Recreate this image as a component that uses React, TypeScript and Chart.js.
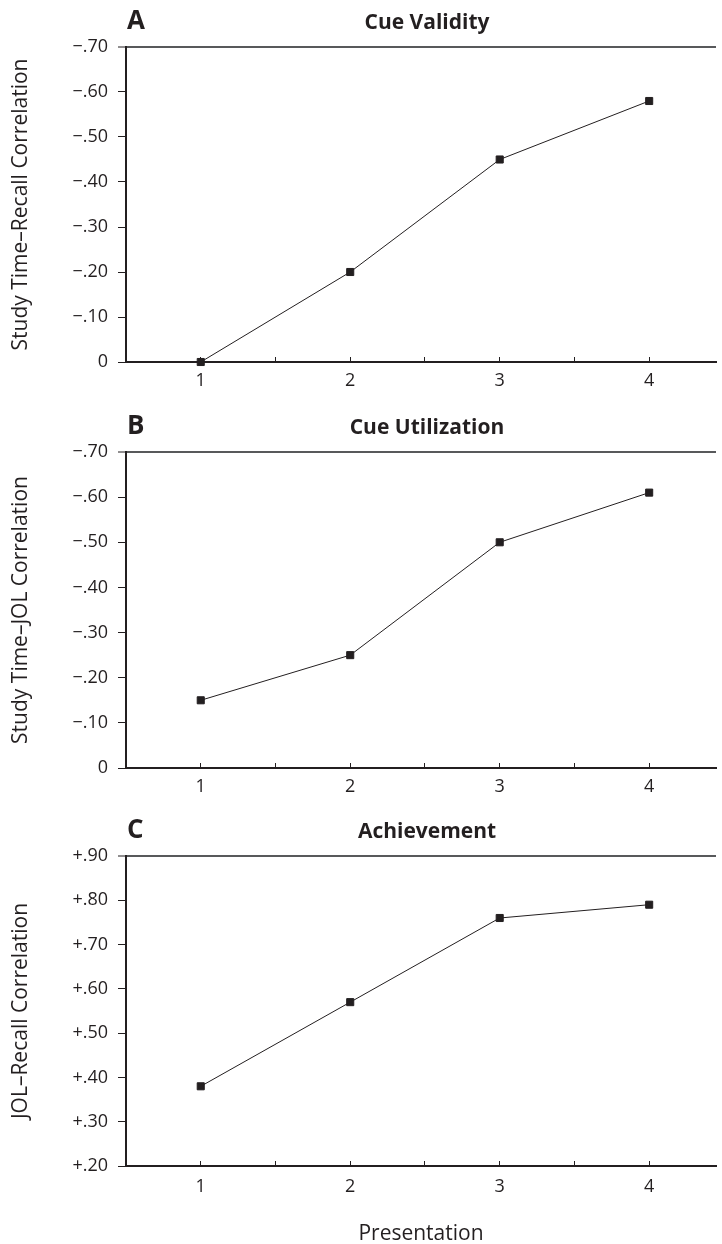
import React, { useEffect, useRef } from 'react';
import { Chart, registerables } from 'chart.js';

Chart.register(...registerables);

// ---------- data ----------
const presentations = [1, 2, 3, 4];
const xTickValues = [1, 1.5, 2, 2.5, 3, 3.5, 4];
const cueValidity = [0, -0.2, -0.45, -0.58];
const cueUtilization = [-0.15, -0.25, -0.5, -0.61];
const achievement = [0.38, 0.57, 0.76, 0.79];
const negativeTicks = [0, -0.1, -0.2, -0.3, -0.4, -0.5, -0.6, -0.7];
const positiveTicks = [0.2, 0.3, 0.4, 0.5, 0.6, 0.7, 0.8, 0.9];
const panelLetters = ['A', 'B', 'C'];
const panelTitles = ['Cue Validity', 'Cue Utilization', 'Achievement'];
const yTitles = [
  'Study Time\u2013Recall Correlation',
  'Study Time\u2013JOL Correlation',
  'JOL\u2013Recall Correlation',
];
const xTitle = 'Presentation';

// ---------- style / layout ----------
const INK = '#231f20';
const FONT = "'Open Sans', 'Noto Sans', sans-serif";
const WIDTH = 722;
const Y_AXIS_WIDTH = 126;
const X_MIN = 0.5;
const X_MAX = 4.447;

type PanelCfg = {
  top: number;
  height: number;
  padTop: number;
  xAxisHeight: number;
  xLabelPad: number;
  values: number[];
  ticks: number[];
  min: number;
  max: number;
  reverse: boolean;
  topValue: number;
  showXTitle: boolean;
};

const panels: PanelCfg[] = [
  { top: 0, height: 400, padTop: 47, xAxisHeight: 38, xLabelPad: 13, values: cueValidity, ticks: negativeTicks, min: -0.7, max: 0, reverse: true, topValue: -0.7, showXTitle: false },
  { top: 400, height: 405, padTop: 52, xAxisHeight: 37, xLabelPad: 13, values: cueUtilization, ticks: negativeTicks, min: -0.7, max: 0, reverse: true, topValue: -0.7, showXTitle: false },
  { top: 805, height: 439, padTop: 51, xAxisHeight: 78, xLabelPad: 15, values: achievement, ticks: positiveTicks, min: 0.2, max: 0.9, reverse: false, topValue: 0.9, showXTitle: true },
];

const fmtY = (v: number) => {
  if (Math.abs(v) < 1e-9) return '0';
  const s = Math.abs(v).toFixed(2).replace(/^0/, '');
  return (v < 0 ? '\u2212' : '+') + s;
};

const panelTextPlugin = {
  id: 'panelText',
  afterDraw(chart: any, _args: any, opts: any) {
    const ctx = chart.ctx;
    const base = chart.chartArea.top - 18;
    ctx.save();
    ctx.fillStyle = INK;
    ctx.textBaseline = 'alphabetic';
    ctx.textAlign = 'left';
    ctx.font = `bold 26px ${FONT}`;
    ctx.fillText(opts.letter, 127, base);
    ctx.textAlign = 'center';
    ctx.font = `bold 21px ${FONT}`;
    ctx.fillText(opts.title, 427, base);
    ctx.restore();
  },
};

function Panel({ idx }: { idx: number }) {
  const ref = useRef<HTMLCanvasElement>(null);
  const cfg = panels[idx];
  useEffect(() => {
    if (!ref.current) return;
    const chart = new Chart(ref.current, {
      type: 'line',
      data: {
        datasets: [
          {
            data: presentations.map((p, i) => ({ x: p, y: cfg.values[i] })),
            borderColor: INK,
            borderWidth: 1,
            pointStyle: 'rect',
            pointRadius: 5,
            pointBackgroundColor: INK,
            pointBorderColor: INK,
            pointBorderWidth: 1,
            tension: 0,
            clip: false as any,
          },
        ],
      },
      options: {
        animation: false,
        responsive: false,
        events: [],
        layout: { padding: { top: cfg.padTop, left: 0, right: 0, bottom: 0 } },
        plugins: {
          legend: { display: false },
          tooltip: { enabled: false },
          title: { display: false },
          panelText: { letter: panelLetters[idx], title: panelTitles[idx] },
        } as any,
        scales: {
          x: {
            type: 'linear',
            min: X_MIN,
            max: X_MAX,
            afterBuildTicks: (scale: any) => {
              scale.ticks = xTickValues.map((v) => ({ value: v }));
            },
            afterFit: (scale: any) => {
              scale.height = cfg.xAxisHeight;
            },
            border: { display: true, color: INK, width: 2 },
            grid: {
              display: true,
              drawOnChartArea: false,
              drawTicks: true,
              tickLength: -5,
              tickColor: INK,
              tickWidth: 1,
              color: 'rgba(0,0,0,0)',
            },
            ticks: {
              autoSkip: false,
              maxRotation: 0,
              padding: cfg.xLabelPad,
              color: INK,
              font: { family: FONT, size: 18 },
              callback: (v: any) => (Number.isInteger(v) ? String(v) : ''),
            },
            title: {
              display: cfg.showXTitle,
              text: xTitle,
              color: INK,
              font: { family: FONT, size: 21 },
              padding: { top: 0, bottom: -3 },
            },
          },
          y: {
            type: 'linear',
            min: cfg.min,
            max: cfg.max,
            reverse: cfg.reverse,
            afterBuildTicks: (scale: any) => {
              scale.ticks = cfg.ticks.map((v) => ({ value: v }));
            },
            afterFit: (scale: any) => {
              scale.width = Y_AXIS_WIDTH;
            },
            border: { display: true, color: INK, width: 2 },
            grid: {
              display: true,
              drawOnChartArea: true,
              drawTicks: true,
              tickLength: 8,
              tickColor: INK,
              tickWidth: 1,
              color: (c: any) =>
                c.tick && Math.abs(c.tick.value - cfg.topValue) < 1e-9 ? '#58595b' : 'rgba(0,0,0,0)',
              lineWidth: (c: any) =>
                c.tick && Math.abs(c.tick.value - cfg.topValue) < 1e-9 ? 2 : 1,
            },
            ticks: {
              autoSkip: false,
              padding: 10,
              color: INK,
              font: { family: FONT, size: 18 },
              callback: (v: any) => fmtY(Number(v)),
            },
            title: {
              display: true,
              text: yTitles[idx],
              color: INK,
              font: { family: FONT, size: 21 },
              padding: { top: 8, bottom: 0 },
            },
          },
        },
      } as any,
      plugins: [panelTextPlugin],
    });
    return () => chart.destroy();
  }, [idx]);
  return (
    <canvas
      ref={ref}
      width={WIDTH}
      height={cfg.height}
      style={{ position: 'absolute', left: 0, top: cfg.top, width: WIDTH, height: cfg.height }}
    />
  );
}

export default function App() {
  return (
    <div
      style={{
        position: 'absolute',
        left: 0,
        top: 0,
        width: WIDTH,
        height: 1244,
        overflow: 'hidden',
        background: '#fff',
      }}
    >
      {panels.map((_, i) => (
        <Panel key={i} idx={i} />
      ))}
    </div>
  );
}
